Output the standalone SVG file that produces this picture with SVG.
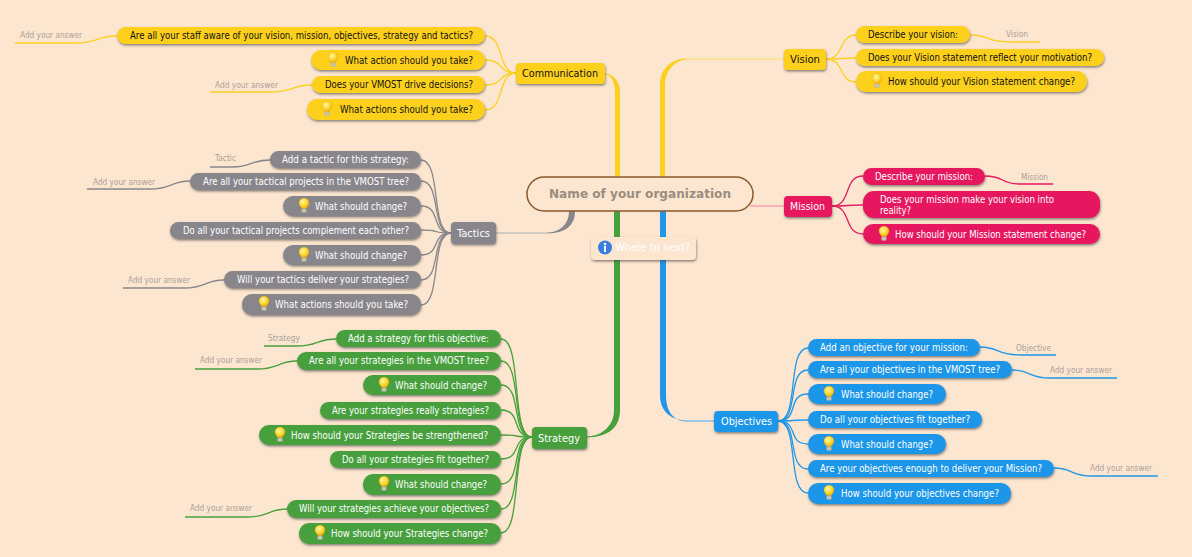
<svg xmlns="http://www.w3.org/2000/svg" width="1192" height="557" viewBox="0 0 1192 557">
<style>
text{font-family:"DejaVu Sans","Liberation Sans",sans-serif;font-stretch:condensed;font-size:10.5px}
.n{filter:url(#s)}
.y{fill:#fdd01e}.p{fill:#e6195e}.g{fill:#88868b}.e{fill:#47a03c}.b{fill:#1f96e8}
.dk{fill:#111}.wh{fill:#fff}
text.a{fill:#aaa198;font-size:8px}
.c{fill:none;stroke-width:1.3}
.cy{stroke:#fdd01e}.cp{stroke:#e6195e}.cg{stroke:#88868b}.ce{stroke:#47a03c}.cb{stroke:#1f96e8}
</style>
<defs>
<filter id="s" x="-10%" y="-20%" width="120%" height="150%"><feDropShadow dx="0.5" dy="1.5" stdDeviation="0.8" flood-color="#444" flood-opacity="0.65"/></filter>
<radialGradient id="bg" cx="0.4" cy="0.35" r="0.7"><stop offset="0" stop-color="#fff6a8"/><stop offset="0.55" stop-color="#fdd835"/><stop offset="1" stop-color="#f2a900"/></radialGradient>
<g id="bulb"><path d="M-2.4,2.6C-2.6,0.8 -5,-0.2 -5,-3C-5,-5.8 -2.8,-7.8 0,-7.8C2.8,-7.8 5,-5.8 5,-3C5,-0.2 2.6,0.8 2.4,2.6Z" fill="url(#bg)" stroke="#e8a400" stroke-width="0.4"/><rect x="-2.4" y="2.8" width="4.8" height="3.8" rx="1.2" fill="#c9c4b4" stroke="#a39d8d" stroke-width="0.3"/></g>
</defs>
<rect width="1192" height="557" fill="#fde6d0"/>
<g id="connectors">
<path d="M615,178V92C615,82 611,75 605,74.5V73.5C614,74 620,82 620,92V178Z" fill="#fdd01e"/>
<path d="M660,178V85C660,68 672,58.5 687,58.5V59.5C676,60 665,70 665,85V178Z" fill="#fdd01e"/>
<path d="M687,59H784" stroke="#fde08a" stroke-width="1.5" fill="none"/>
<path d="M750,206H784" stroke="#f7a0b0" stroke-width="1.3" fill="none"/>
<path d="M614,211V410C614,425 603,436 587,436.5V437.5C608,437 620,428 620,410V211Z" fill="#47a03c"/>
<path d="M660,211V395C660,412 672,420.5 687,420.5V421.5C672,421 666,410 666,395V211Z" fill="#1f96e8"/>
<path d="M687,421H714" stroke="#7cbcec" stroke-width="1.5" fill="none"/>
<path d="M569,211C569,224 560,232 548,232.5V233.5C565,233 575,226 575,211Z" fill="#88868b"/>
<path d="M548,233H496" stroke="#c4c0bc" stroke-width="1.5" fill="none"/>
<g class="c cy">
<path d="M516,73C497,73 505,36 485,36"/><path d="M516,73C497,73 505,60 485,60"/><path d="M516,73C497,73 505,85 485,85"/><path d="M516,73C497,73 505,110 485,110"/>
<path d="M826,59C845,59 838,35 856,35"/><path d="M826,59C845,59 838,58 856,58"/><path d="M826,59C845,59 838,82 856,82"/>
<path d="M117,36C95,36 100,43 75,43H15"/><path d="M312,85C290,85 295,92 270,92H210"/><path d="M970,35C990,35 985,42 1010,42H1040"/>
</g>
<g class="c cp">
<path d="M832,206C852,206 843,176 863,176"/><path d="M832,206C852,206 843,205 863,205"/><path d="M832,206C852,206 843,234 863,234"/>
<path d="M985,176C1005,176 1000,184 1020,184H1053"/>
</g>
<g class="c cg">
<path d="M451,233C430,233 442,160 421,160"/><path d="M451,233C430,233 442,181 421,181"/><path d="M451,233C430,233 442,206 421,206"/><path d="M451,233C430,233 442,230 421,230"/><path d="M451,233C430,233 442,255 421,255"/><path d="M451,233C430,233 442,280 421,280"/><path d="M451,233C430,233 442,305 421,305"/>
<path d="M270,160C250,160 253,167 232,167H210"/><path d="M190,181C170,181 173,189 150,189H87"/><path d="M224,280C204,280 207,288 184,288H123"/>
</g>
<g class="c ce">
<path d="M532,437C510,437 523,339 501,339"/><path d="M532,437C510,437 523,361 501,361"/><path d="M532,437C510,437 523,385 501,385"/><path d="M532,437C510,437 523,410 501,410"/><path d="M532,437C510,437 523,435 501,435"/><path d="M532,437C510,437 523,459 501,459"/><path d="M532,437C510,437 523,484 501,484"/><path d="M532,437C510,437 523,509 501,509"/><path d="M532,437C510,437 523,533 501,533"/>
<path d="M336,339C316,339 319,346 296,346H264"/><path d="M297,361C277,361 280,369 257,369H195"/><path d="M287,509C267,509 270,517 247,517H185"/>
</g>
<g class="c cb">
<path d="M778,421C800,421 786,348 808,348"/><path d="M778,421C800,421 786,370 808,370"/><path d="M778,421C800,421 786,394 808,394"/><path d="M778,421C800,421 786,420 808,420"/><path d="M778,421C800,421 786,444 808,444"/><path d="M778,421C800,421 786,469 808,469"/><path d="M778,421C800,421 786,493 808,493"/>
<path d="M980,347C1000,347 995,355 1020,355H1056"/><path d="M1012,370C1032,370 1027,378 1050,378H1117"/><path d="M1054,468C1074,468 1069,476 1092,476H1158"/>
</g>
</g>
<g id="root"><rect x="527" y="177" width="226" height="34" rx="17" fill="#fde6d0" stroke="#8b5a2b" stroke-width="1.5"/><text x="549" y="198" textLength="182" lengthAdjust="spacingAndGlyphs" style="font-size:13px;font-weight:bold;font-stretch:normal;fill:#9a8d80">Name of your organization</text></g>
<g id="next"><rect class="n" x="591" y="237" width="105" height="23" rx="4" fill="#fde6d0"/><circle cx="605" cy="247.5" r="7" fill="#3b7de0"/><circle cx="605" cy="244" r="1.3" fill="#fff"/><rect x="604" y="246" width="2" height="6" fill="#fff"/><text class="wh" x="615" y="251" textLength="75" lengthAdjust="spacingAndGlyphs">Where to next?</text></g>

<g id="communication"><rect class="n y" x="516" y="63" width="89" height="21" rx="4"/><text class="dk" x="522" y="77" textLength="76" lengthAdjust="spacingAndGlyphs">Communication</text></g>
<g id="c1"><rect class="n y" x="117" y="27" width="368" height="17" rx="8.5"/><text class="dk" x="130" y="39" textLength="343" lengthAdjust="spacingAndGlyphs">Are all your staff aware of your vision, mission, objectives, strategy and tactics?</text></g>
<g id="c1a"><text class="a" x="20" y="38" textLength="62" lengthAdjust="spacingAndGlyphs">Add your answer</text></g>
<g id="c2"><rect class="n y" x="311" y="50" width="174" height="20" rx="10"/><use href="#bulb" x="333" y="60"/><text class="dk" x="345" y="64" textLength="128" lengthAdjust="spacingAndGlyphs">What action should you take?</text></g>
<g id="c3"><rect class="n y" x="312" y="76" width="173" height="17" rx="8.5"/><text class="dk" x="325" y="88" textLength="148" lengthAdjust="spacingAndGlyphs">Does your VMOST drive decisions?</text></g>
<g id="c3a"><text class="a" x="215" y="88" textLength="63" lengthAdjust="spacingAndGlyphs">Add your answer</text></g>
<g id="c4"><rect class="n y" x="307" y="99" width="178" height="21" rx="10"/><use href="#bulb" x="327" y="109"/><text class="dk" x="340" y="113" textLength="133" lengthAdjust="spacingAndGlyphs">What actions should you take?</text></g>

<g id="vision"><rect class="n y" x="784" y="49" width="42" height="21" rx="4"/><text class="dk" x="790" y="63" textLength="30" lengthAdjust="spacingAndGlyphs">Vision</text></g>
<g id="v1"><rect class="n y" x="856" y="26" width="114" height="17" rx="8.5"/><text class="dk" x="868" y="38" textLength="90" lengthAdjust="spacingAndGlyphs">Describe your vision:</text></g>
<g id="v1a"><text class="a" x="1006" y="37" textLength="22" lengthAdjust="spacingAndGlyphs">Vision</text></g>
<g id="v2"><rect class="n y" x="856" y="49" width="248" height="17" rx="8.5"/><text class="dk" x="868" y="61" textLength="224" lengthAdjust="spacingAndGlyphs">Does your Vision statement reflect your motivation?</text></g>
<g id="v3"><rect class="n y" x="856" y="71" width="231" height="21" rx="10"/><use href="#bulb" x="877" y="81"/><text class="dk" x="888" y="85" textLength="187" lengthAdjust="spacingAndGlyphs">How should your Vision statement change?</text></g>

<g id="mission"><rect class="n p" x="784" y="196" width="48" height="21" rx="4"/><text class="wh" x="790" y="210" textLength="35" lengthAdjust="spacingAndGlyphs">Mission</text></g>
<g id="m1"><rect class="n p" x="863" y="168" width="122" height="17" rx="8.5"/><text class="wh" x="875" y="180" textLength="98" lengthAdjust="spacingAndGlyphs">Describe your mission:</text></g>
<g id="m1a"><text class="a" x="1021" y="180" textLength="27" lengthAdjust="spacingAndGlyphs">Mission</text></g>
<g id="m2"><rect class="n p" x="863" y="191" width="237" height="27" rx="11"/><text class="wh" x="880" y="203" textLength="174" lengthAdjust="spacingAndGlyphs">Does your mission make your vision into</text><text class="wh" x="880" y="214" textLength="31" lengthAdjust="spacingAndGlyphs">reality?</text></g>
<g id="m3"><rect class="n p" x="863" y="224" width="237" height="20" rx="10"/><use href="#bulb" x="884" y="234"/><text class="wh" x="895" y="238" textLength="191" lengthAdjust="spacingAndGlyphs">How should your Mission statement change?</text></g>

<g id="tactics"><rect class="n g" x="451" y="222" width="45" height="22" rx="4"/><text class="wh" x="457" y="237" textLength="33" lengthAdjust="spacingAndGlyphs">Tactics</text></g>
<g id="t1"><rect class="n g" x="270" y="151" width="151" height="17" rx="8.5"/><text class="wh" x="282" y="163" textLength="127" lengthAdjust="spacingAndGlyphs">Add a tactic for this strategy:</text></g>
<g id="t1a"><text class="a" x="215" y="161" textLength="21" lengthAdjust="spacingAndGlyphs">Tactic</text></g>
<g id="t2"><rect class="n g" x="190" y="173" width="231" height="17" rx="8.5"/><text class="wh" x="203" y="185" textLength="206" lengthAdjust="spacingAndGlyphs">Are all your tactical projects in the VMOST tree?</text></g>
<g id="t2a"><text class="a" x="93" y="185" textLength="62" lengthAdjust="spacingAndGlyphs">Add your answer</text></g>
<g id="t3"><rect class="n g" x="283" y="196" width="138" height="20" rx="10"/><use href="#bulb" x="304" y="206"/><text class="wh" x="315" y="210" textLength="92" lengthAdjust="spacingAndGlyphs">What should change?</text></g>
<g id="t4"><rect class="n g" x="170" y="222" width="251" height="17" rx="8.5"/><text class="wh" x="183" y="234" textLength="226" lengthAdjust="spacingAndGlyphs">Do all your tactical projects complement each other?</text></g>
<g id="t5"><rect class="n g" x="283" y="245" width="138" height="20" rx="10"/><use href="#bulb" x="304" y="255"/><text class="wh" x="315" y="259" textLength="92" lengthAdjust="spacingAndGlyphs">What should change?</text></g>
<g id="t6"><rect class="n g" x="224" y="271" width="197" height="17" rx="8.5"/><text class="wh" x="237" y="283" textLength="172" lengthAdjust="spacingAndGlyphs">Will your tactics deliver your strategies?</text></g>
<g id="t6a"><text class="a" x="128" y="283" textLength="62" lengthAdjust="spacingAndGlyphs">Add your answer</text></g>
<g id="t7"><rect class="n g" x="242" y="294" width="179" height="21" rx="10"/><use href="#bulb" x="264" y="304"/><text class="wh" x="275" y="308" textLength="133" lengthAdjust="spacingAndGlyphs">What actions should you take?</text></g>

<g id="strategy"><rect class="n e" x="532" y="427" width="55" height="22" rx="4"/><text class="wh" x="538" y="442" textLength="42" lengthAdjust="spacingAndGlyphs">Strategy</text></g>
<g id="s1"><rect class="n e" x="336" y="330" width="165" height="17" rx="8.5"/><text class="wh" x="348" y="342" textLength="141" lengthAdjust="spacingAndGlyphs">Add a strategy for this objective:</text></g>
<g id="s1a"><text class="a" x="268" y="341" textLength="32" lengthAdjust="spacingAndGlyphs">Strategy</text></g>
<g id="s2"><rect class="n e" x="297" y="352" width="204" height="18" rx="9"/><text class="wh" x="309" y="364" textLength="180" lengthAdjust="spacingAndGlyphs">Are all your strategies in the VMOST tree?</text></g>
<g id="s2a"><text class="a" x="200" y="363" textLength="62" lengthAdjust="spacingAndGlyphs">Add your answer</text></g>
<g id="s3"><rect class="n e" x="363" y="375" width="138" height="20" rx="10"/><use href="#bulb" x="384" y="385"/><text class="wh" x="395" y="389" textLength="92" lengthAdjust="spacingAndGlyphs">What should change?</text></g>
<g id="s4"><rect class="n e" x="320" y="402" width="181" height="17" rx="8.5"/><text class="wh" x="332" y="414" textLength="157" lengthAdjust="spacingAndGlyphs">Are your strategies really strategies?</text></g>
<g id="s5"><rect class="n e" x="259" y="425" width="242" height="20" rx="10"/><use href="#bulb" x="280" y="435"/><text class="wh" x="291" y="439" textLength="197" lengthAdjust="spacingAndGlyphs">How should your Strategies be strengthened?</text></g>
<g id="s6"><rect class="n e" x="330" y="451" width="171" height="17" rx="8.5"/><text class="wh" x="342" y="463" textLength="147" lengthAdjust="spacingAndGlyphs">Do all your strategies fit together?</text></g>
<g id="s7"><rect class="n e" x="363" y="474" width="138" height="21" rx="10"/><use href="#bulb" x="384" y="484"/><text class="wh" x="395" y="488" textLength="92" lengthAdjust="spacingAndGlyphs">What should change?</text></g>
<g id="s8"><rect class="n e" x="287" y="500" width="214" height="18" rx="9"/><text class="wh" x="299" y="512" textLength="190" lengthAdjust="spacingAndGlyphs">Will your strategies achieve your objectives?</text></g>
<g id="s8a"><text class="a" x="190" y="511" textLength="62" lengthAdjust="spacingAndGlyphs">Add your answer</text></g>
<g id="s9"><rect class="n e" x="299" y="523" width="202" height="21" rx="10"/><use href="#bulb" x="320" y="533"/><text class="wh" x="331" y="537" textLength="157" lengthAdjust="spacingAndGlyphs">How should your Strategies change?</text></g>

<g id="objectives"><rect class="n b" x="714" y="411" width="64" height="21" rx="4"/><text class="wh" x="721" y="425" textLength="51" lengthAdjust="spacingAndGlyphs">Objectives</text></g>
<g id="o1"><rect class="n b" x="808" y="339" width="172" height="17" rx="8.5"/><text class="wh" x="820" y="351" textLength="148" lengthAdjust="spacingAndGlyphs">Add an objective for your mission:</text></g>
<g id="o1a"><text class="a" x="1016" y="351" textLength="35" lengthAdjust="spacingAndGlyphs">Objective</text></g>
<g id="o2"><rect class="n b" x="808" y="361" width="204" height="17" rx="8.5"/><text class="wh" x="820" y="373" textLength="180" lengthAdjust="spacingAndGlyphs">Are all your objectives in the VMOST tree?</text></g>
<g id="o2a"><text class="a" x="1050" y="373" textLength="62" lengthAdjust="spacingAndGlyphs">Add your answer</text></g>
<g id="o3"><rect class="n b" x="808" y="384" width="138" height="20" rx="10"/><use href="#bulb" x="829" y="394"/><text class="wh" x="841" y="398" textLength="92" lengthAdjust="spacingAndGlyphs">What should change?</text></g>
<g id="o4"><rect class="n b" x="808" y="411" width="174" height="17" rx="8.5"/><text class="wh" x="820" y="423" textLength="150" lengthAdjust="spacingAndGlyphs">Do all your objectives fit together?</text></g>
<g id="o5"><rect class="n b" x="808" y="434" width="138" height="20" rx="10"/><use href="#bulb" x="829" y="444"/><text class="wh" x="841" y="448" textLength="92" lengthAdjust="spacingAndGlyphs">What should change?</text></g>
<g id="o6"><rect class="n b" x="808" y="460" width="246" height="17" rx="8.5"/><text class="wh" x="820" y="472" textLength="222" lengthAdjust="spacingAndGlyphs">Are your objectives enough to deliver your Mission?</text></g>
<g id="o6a"><text class="a" x="1090" y="471" textLength="62" lengthAdjust="spacingAndGlyphs">Add your answer</text></g>
<g id="o7"><rect class="n b" x="808" y="483" width="203" height="21" rx="10"/><use href="#bulb" x="829" y="493"/><text class="wh" x="841" y="497" textLength="158" lengthAdjust="spacingAndGlyphs">How should your objectives change?</text></g>
</svg>
